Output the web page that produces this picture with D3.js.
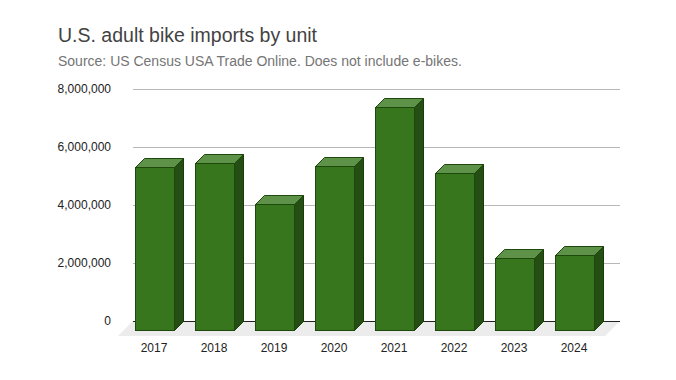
<!DOCTYPE html>
<html>
<head>
<meta charset="utf-8">
<script src="https://cdn.jsdelivr.net/npm/d3@7"></script>
<style>
  html, body { margin: 0; padding: 0; background: #ffffff; }
  svg { display: block; font-family: "Liberation Sans", Arial, sans-serif; }
</style>
</head>
<body>
<script>
const categories = ["2017", "2018", "2019", "2020", "2021", "2022", "2023", "2024"];
const imports = [5620000, 5770000, 4350000, 5670000, 7700000, 5420000, 2500000, 2600000];
const yTicks = [0, 2000000, 4000000, 6000000, 8000000];
const titleText = "U.S. adult bike imports by unit";
const subtitleText = "Source: US Census USA Trade Online. Does not include e-bikes.";

const W = 676, H = 380;
const depth = 9;        // bar 3D depth
const floorDepth = 15;  // floor depth

const svg = d3.select("body").append("svg").attr("width", W).attr("height", H);

// back plane scale
const y = d3.scaleLinear().domain([0, 8000000]).range([321, 89]);
const gridX0 = 133, gridX1 = 620;
// front plane band scale for bars
const x = d3.scaleBand().domain(categories).range([124, 604]).paddingInner(0.35).paddingOuter(0.175);

// Title & subtitle
svg.append("text").attr("x", 58).attr("y", 42).attr("font-size", 19.5).attr("fill", "#434343").text(titleText);
svg.append("text").attr("x", 58).attr("y", 66).attr("font-size", 14).attr("fill", "#757575").text(subtitleText);

// floor
svg.append("path")
  .attr("d", `M${gridX0},${y(0)} L${gridX1},${y(0)} L${gridX1 - floorDepth},${y(0) + floorDepth} L${gridX0 - floorDepth},${y(0) + floorDepth} Z`)
  .attr("fill", "#ececec");

// gridlines
svg.append("g").selectAll("line").data(yTicks.filter(t => t > 0)).join("line")
  .attr("x1", gridX0).attr("x2", gridX1)
  .attr("y1", d => Math.round(y(d)) + 0.5).attr("y2", d => Math.round(y(d)) + 0.5)
  .attr("stroke", "#b7b7b7").attr("stroke-width", 1);

// zero line
svg.append("line").attr("x1", gridX0).attr("x2", gridX1)
  .attr("y1", Math.round(y(0)) + 0.5).attr("y2", Math.round(y(0)) + 0.5)
  .attr("stroke", "#222").attr("stroke-width", 1);

// y tick labels
svg.append("g").selectAll("text").data(yTicks).join("text")
  .attr("x", 111).attr("y", d => y(d)).attr("dy", "0.35em")
  .attr("text-anchor", "end").attr("font-size", 12).attr("fill", "#222")
  .text(d => d3.format(",")(d));

// bars
const bars = svg.append("g").selectAll("g").data(categories.map((c, i) => ({ c, v: imports[i] }))).join("g");
bars.each(function (d) {
  const g = d3.select(this);
  const x0 = Math.round(x(d.c)) + 0.5;
  const x1 = Math.round(x(d.c) + x.bandwidth()) + 0.5;
  const yt = Math.round(y(d.v) + depth) + 0.5;
  const yb = Math.round(y(0) + depth) + 0.5;
  // side
  g.append("path")
    .attr("d", `M${x1},${yt} L${x1 + depth},${yt - depth} L${x1 + depth},${yb - depth} L${x1},${yb} Z`)
    .attr("fill", "#254e14").attr("stroke", "#173d08").attr("stroke-width", 1);
  // top
  g.append("path")
    .attr("d", `M${x0},${yt} L${x0 + depth},${yt - depth} L${x1 + depth},${yt - depth} L${x1},${yt} Z`)
    .attr("fill", "#5f9249").attr("stroke", "#1d4a0c").attr("stroke-width", 1);
  // front
  g.append("rect")
    .attr("x", x0).attr("y", yt).attr("width", x1 - x0).attr("height", yb - yt)
    .attr("fill", "#38761d").attr("stroke", "#1d4a0c").attr("stroke-width", 1);
});

// x labels
svg.append("g").selectAll("text").data(categories).join("text")
  .attr("x", d => x(d) + x.bandwidth() / 2).attr("y", 352)
  .attr("text-anchor", "middle").attr("font-size", 12).attr("fill", "#222")
  .text(d => d);
</script>
</body>
</html>
